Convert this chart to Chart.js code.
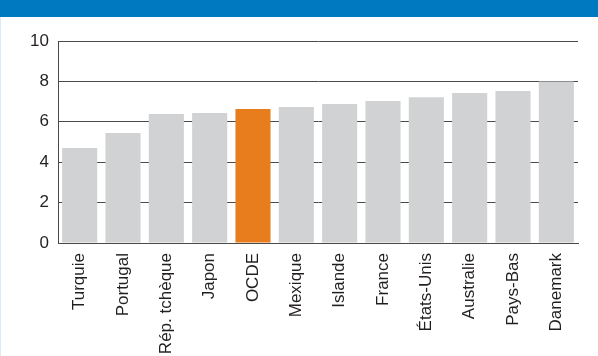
<!DOCTYPE html>
<html lang="fr">
<head>
<meta charset="utf-8">
<script src="https://cdn.jsdelivr.net/npm/chart.js@4/dist/chart.umd.min.js"></script>
<style>
  html, body { margin: 0; padding: 0; background: #ffffff; }
  #frame { position: relative; width: 598px; height: 356px; overflow: hidden; background: #ffffff; }
  #bandeau { position: absolute; left: 0; top: 0; width: 598px; height: 17px; background: #0079c1; }
  #filet { position: absolute; left: 0; top: 17px; width: 1px; height: 339px; background: #dcebf6; }
  #zone { position: absolute; left: 0; top: 17px; width: 598px; height: 339px; }
</style>
</head>
<body>
<div id="frame">
  <div id="bandeau"></div>
  <div id="filet"></div>
  <div id="zone"><canvas id="chart" width="598" height="339"></canvas></div>
</div>
<script>
/* eslint-env browser */
/* global Chart */

const pays = ['Turquie', 'Portugal', 'Rép. tchèque', 'Japon', 'OCDE', 'Mexique',
  'Islande', 'France', 'États-Unis', 'Australie', 'Pays-Bas', 'Danemark'];
const valeurs = [4.7, 5.45, 6.38, 6.43, 6.63, 6.73, 6.88, 7.03, 7.22, 7.42, 7.52, 8.0];
const graduations = [0, 2, 4, 6, 8, 10];

const GRIS = '#d1d2d4';
const ORANGE = '#e87d1e';
const TRAIT = '#4a4a4a';
const police = {family: '"Liberation Sans", Arial, Helvetica, sans-serif', size: 17};

// la moyenne OCDE ressort en orange
const couleurs = pays.map((p) => (p === 'OCDE' ? ORANGE : GRIS));

const ctx = document.getElementById('chart');
new Chart(ctx, {
  type: 'bar',
  data: {
    labels: pays,
    datasets: [{data: valeurs, backgroundColor: couleurs, borderWidth: 0,
      barPercentage: 0.81, categoryPercentage: 1}]
  },
  options: {
    responsive: false,
    animation: false,
    layout: {padding: {top: 24, right: 20, bottom: 0, left: 0}},
    plugins: {legend: {display: false}, tooltip: {enabled: false}},
    scales: {
      x: {
        grid: {display: false, drawTicks: false},
        border: {display: true, color: TRAIT, width: 1},
        ticks: {
          autoSkip: false, minRotation: 90, maxRotation: 90,
          color: '#231f20', font: police, padding: 10
        },
        afterFit(scale) { scale.height = 113; }
      },
      y: {
        min: 0,
        max: 10,
        z: 1, // lignes de grille par-dessus les barres
        afterBuildTicks(scale) { scale.ticks = graduations.map((v) => ({value: v})); },
        grid: {color: TRAIT, lineWidth: 1, drawTicks: false},
        border: {display: true, color: TRAIT, width: 1},
        ticks: {color: '#231f20', font: police, padding: 9},
        afterFit(scale) { scale.width = 58; }
      }
    }
  }
});
</script>
</body>
</html>
